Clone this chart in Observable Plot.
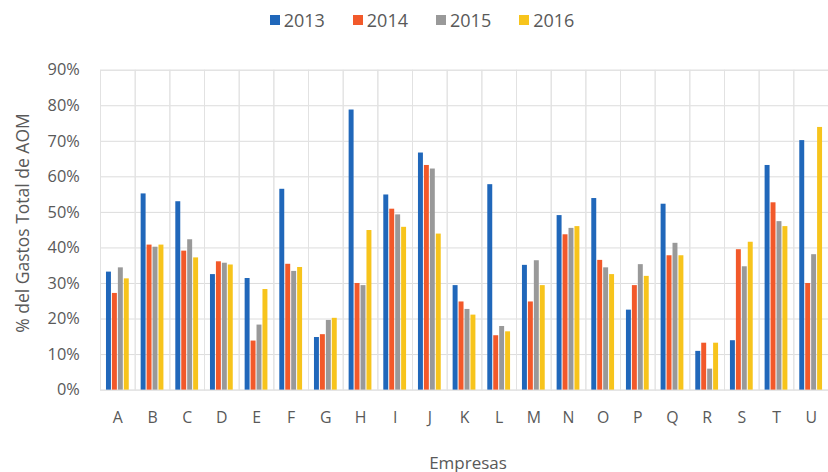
<!DOCTYPE html>
<html>
<head>
<meta charset="utf-8">
<script src="https://cdn.jsdelivr.net/npm/d3@7"></script>
<script src="https://cdn.jsdelivr.net/npm/@observablehq/plot@0.6"></script>
<style>
  html, body { margin: 0; padding: 0; background: #fff; overflow: hidden; width: 828px; height: 472px; }
  body { font-family: "Open Sans", sans-serif; color: #595959; position: relative; }
  #legend { height: 40px; display: flex; justify-content: center; align-items: center; gap: 28px; font-size: 18px; width: 844px; }
  #legend span.item { display: inline-flex; align-items: center; gap: 4px; }
  #legend span.sw { width: 10px; height: 10px; display: inline-block; }
  #ylabel { position: absolute; left: 22px; top: 223px; transform: translate(-50%, -50%) rotate(-90deg); white-space: nowrap; font-size: 17.5px; }
  #xlabel { position: absolute; left: 468px; top: 462px; transform: translate(-50%, -50%); font-size: 17px; white-space: nowrap; }
  #chart { position: absolute; left: 0; top: 40px; }
</style>
</head>
<body>
<div id="legend"></div>
<div id="chart"></div>
<div id="ylabel">% del Gastos Total de AOM</div>
<div id="xlabel">Empresas</div>
<script>
const companies = ["A","B","C","D","E","F","G","H","I","J","K","L","M","N","O","P","Q","R","S","T","U"];
const years = ["2013","2014","2015","2016"];
const colors = ["#2067BA", "#F2592A", "#999999", "#F7C41C"];
const v2013 = [33.2, 55.2, 53.0, 32.5, 31.4, 56.5, 14.8, 78.8, 54.9, 66.7, 29.4, 57.8, 35.1, 49.1, 53.9, 22.5, 52.3, 10.9, 13.9, 63.2, 70.2];
const v2014 = [27.2, 40.8, 39.1, 36.1, 13.8, 35.4, 15.6, 30.0, 50.9, 63.2, 24.8, 15.3, 24.8, 43.7, 36.5, 29.4, 37.8, 13.2, 39.5, 52.7, 30.0];
const v2015 = [34.4, 40.2, 42.3, 35.7, 18.3, 33.4, 19.6, 29.4, 49.3, 62.2, 22.7, 17.9, 36.4, 45.5, 34.4, 35.3, 41.3, 5.9, 34.7, 47.4, 38.1];
const v2016 = [31.3, 40.8, 37.2, 35.2, 28.3, 34.5, 20.2, 44.9, 45.8, 43.9, 21.1, 16.4, 29.4, 46.0, 32.5, 32.0, 37.8, 13.2, 41.6, 46.0, 73.9];
const yTicks = [0, 0.1, 0.2, 0.3, 0.4, 0.5, 0.6, 0.7, 0.8, 0.9];

const series = [v2013, v2014, v2015, v2016];
const rows = [];
companies.forEach((c, i) => {
  years.forEach((y, j) => rows.push({company: c, year: y, value: series[j][i] / 100}));
});

// legend
const legend = document.getElementById("legend");
years.forEach((y, j) => {
  const it = document.createElement("span");
  it.className = "item";
  const sw = document.createElement("span");
  sw.className = "sw";
  sw.style.background = colors[j];
  it.appendChild(sw);
  it.appendChild(document.createTextNode(y));
  legend.appendChild(it);
});

const chart = Plot.plot({
  width: 836,
  height: 432,
  marginLeft: 101,
  marginRight: 0,
  marginTop: 30,
  marginBottom: 79,
  style: {fontFamily: "Open Sans, sans-serif", color: "#595959", background: "transparent"},
  fx: {domain: companies, padding: 0},
  x: {domain: years, axis: null, paddingInner: 0.24, paddingOuter: 0.72},
  y: {domain: [0, 0.9]},
  color: {domain: years, range: colors},
  marks: [
    Plot.gridY({ticks: yTicks, stroke: "#dcdcdc", strokeOpacity: 1}),
    Plot.frame({stroke: "#e2e2e2"}),
    Plot.barY(rows, {fx: "company", x: "year", y: "value", fill: "year"}),
    Plot.axisY({ticks: yTicks, tickFormat: d3.format(".0%"), tickSize: 0, tickPadding: 21, fontSize: 16.5, label: null}),
    Plot.axisFx({anchor: "bottom", tickSize: 0, tickPadding: 22, fontSize: 16, label: null})
  ]
});
document.getElementById("chart").appendChild(chart);
</script>
</body>
</html>
